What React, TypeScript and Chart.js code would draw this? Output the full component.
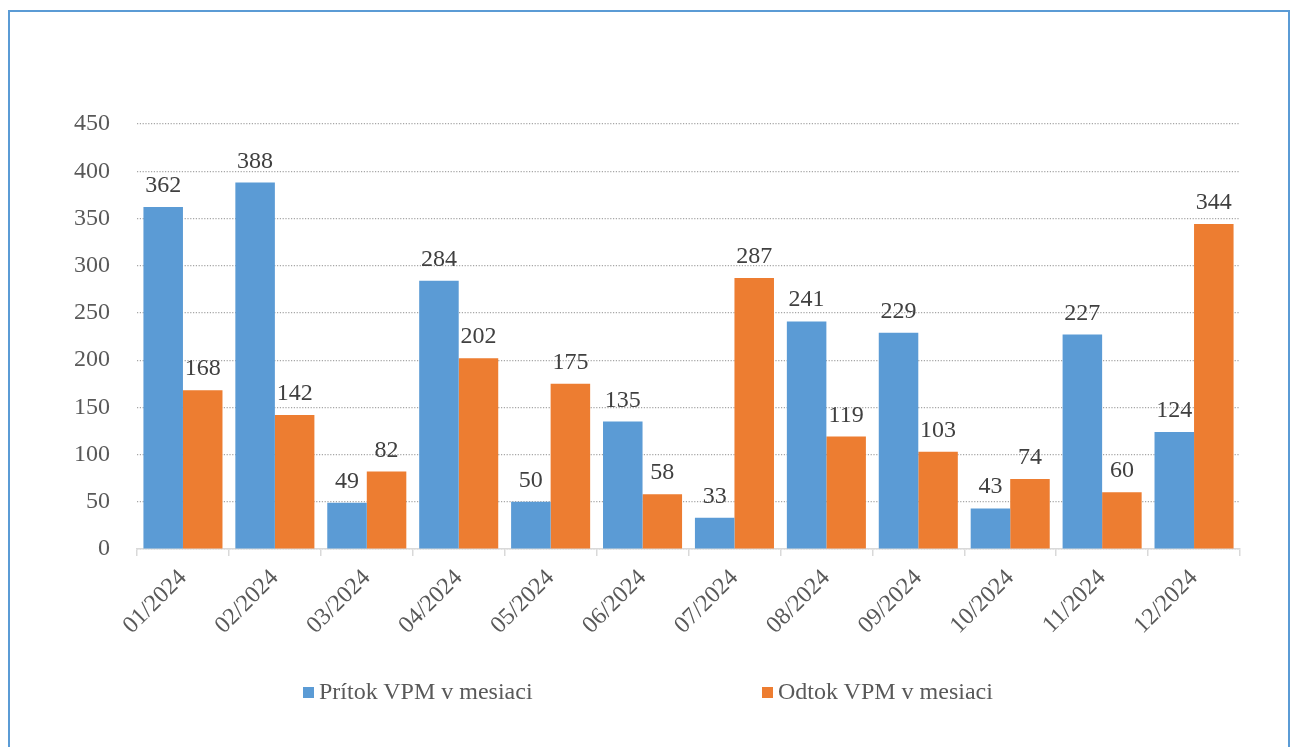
import React, { useEffect, useRef } from "react";
import { Chart, registerables } from "chart.js";

Chart.register(...registerables);

const months = [
  "01/2024", "02/2024", "03/2024", "04/2024", "05/2024", "06/2024",
  "07/2024", "08/2024", "09/2024", "10/2024", "11/2024", "12/2024",
];
const pritok = [362, 388, 49, 284, 50, 135, 33, 241, 229, 43, 227, 124];
const odtok = [168, 142, 82, 202, 175, 58, 287, 119, 103, 74, 60, 344];
const seriesNames = ["Prítok VPM v mesiaci", "Odtok VPM v mesiaci"];
const seriesColors = ["#5B9BD5", "#ED7D31"];
const yMin = 0;
const yMax = 450;
const yStep = 50;

const FONT = '"Liberation Serif", "Times New Roman", serif';
const FS = 24;

export default function App() {
  const ref = useRef<HTMLCanvasElement>(null);

  useEffect(() => {
    document.documentElement.style.overflow = "hidden";
    document.body.style.overflow = "hidden";
    const labelPlugin = {
      id: "barLabels",
      afterDatasetsDraw(chart: any) {
        const ctx = chart.ctx;
        ctx.save();
        ctx.font = `${FS}px ${FONT}`;
        ctx.fillStyle = "#404040";
        ctx.textAlign = "center";
        ctx.textBaseline = "alphabetic";
        chart.data.datasets.forEach((ds: any, i: number) => {
          const meta = chart.getDatasetMeta(i);
          meta.data.forEach((el: any, j: number) => {
            ctx.fillText(String(ds.data[j]), el.x, el.y - 15);
          });
        });
        ctx.restore();
      },
    };

    const chart = new Chart(ref.current as HTMLCanvasElement, {
      type: "bar",
      data: {
        labels: months,
        datasets: [
          {
            label: seriesNames[0],
            data: pritok,
            backgroundColor: seriesColors[0],
            categoryPercentage: 0.86,
            barPercentage: 1,
          },
          {
            label: seriesNames[1],
            data: odtok,
            backgroundColor: seriesColors[1],
            categoryPercentage: 0.86,
            barPercentage: 1,
          },
        ],
      },
      options: {
        animation: false,
        responsive: false,
        devicePixelRatio: 1,
        layout: { padding: { left: 20, top: 124, right: 50, bottom: 78 } },
        plugins: {
          legend: { display: false },
          tooltip: { enabled: false },
          title: { display: false },
        },
        scales: {
          x: {
            offset: true,
            grid: {
              display: true,
              offset: true,
              drawOnChartArea: false,
              drawTicks: true,
              tickLength: 7,
              color: "#d9d9d9",
              lineWidth: 1.5,
            },
            border: { display: true, color: "#d9d9d9", width: 1.5 },
            ticks: {
              maxRotation: 45,
              minRotation: 45,
              autoSkip: false,
              padding: 8,
              color: "#595959",
              font: { family: FONT, size: FS },
            },
            afterFit(scale: any) {
              scale.height = 120;
            },
          },
          y: {
            min: yMin,
            max: yMax,
            ticks: {
              stepSize: yStep,
              padding: 27,
              color: "#595959",
              font: { family: FONT, size: FS },
            },
            grid: {
              display: true,
              drawTicks: false,
              color: "#a6a6a6",
              lineWidth: 1.2,
            },
            border: { display: false, dash: [1.2, 1.6] },
            afterFit(scale: any) {
              scale.width = 117;
            },
          },
        },
      },
      plugins: [labelPlugin],
    });
    return () => chart.destroy();
  }, []);

  const legendText: React.CSSProperties = {
    position: "absolute",
    top: 679,
    fontFamily: FONT,
    fontSize: FS,
    lineHeight: `${FS}px`,
    color: "#595959",
    whiteSpace: "nowrap",
  };

  return (
    <div style={{ position: "fixed", left: 0, top: 0, width: 1290, height: 747, background: "#fff", overflow: "hidden" }}>
      <div
        style={{
          position: "absolute",
          left: 8,
          top: 10,
          width: 1282,
          height: 780,
          border: "2px solid #5B9BD5",
          boxSizing: "border-box",
        }}
      />
      <canvas
        ref={ref}
        width={1290}
        height={747}
        style={{ position: "absolute", left: 0, top: 0, width: 1290, height: 747 }}
      />
      <div style={{ position: "absolute", left: 303, top: 687, width: 11, height: 11, background: seriesColors[0] }} />
      <div style={{ ...legendText, left: 319 }}>{seriesNames[0]}</div>
      <div style={{ position: "absolute", left: 762, top: 687, width: 11, height: 11, background: seriesColors[1] }} />
      <div style={{ ...legendText, left: 778 }}>{seriesNames[1]}</div>
    </div>
  );
}
